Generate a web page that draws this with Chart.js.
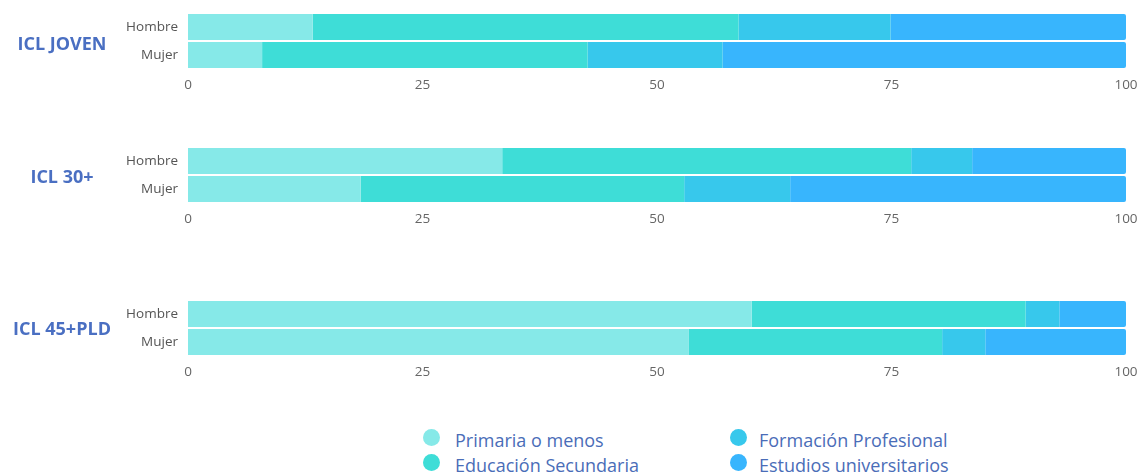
<!DOCTYPE html>
<html>
<head>
<meta charset="utf-8">
<script src="https://cdn.jsdelivr.net/npm/chart.js@4"></script>
<style>
  html, body { margin: 0; padding: 0; background: #fff; }
  body { width: 1141px; height: 475px; position: relative; overflow: hidden; font-family: "Open Sans", sans-serif; }
  .wrap { position: absolute; left: 0; width: 1141px; height: 100px; }
  .grp { position: absolute; left: 0; width: 124px; text-align: center; font-weight: bold; font-size: 18px; color: #4a6fc2; line-height: 22px; }
  .leg { position: absolute; font-size: 18px; color: #4a6db8; line-height: 22px; white-space: nowrap; }
  .dot { position: absolute; width: 17px; height: 17px; border-radius: 50%; }
</style>
</head>
<body>
<div class="wrap" style="top:0px"><canvas id="c0" width="1141" height="100"></canvas></div>
<div class="wrap" style="top:134px"><canvas id="c1" width="1141" height="100"></canvas></div>
<div class="wrap" style="top:287px"><canvas id="c2" width="1141" height="100"></canvas></div>
<div id="groups"></div>
<div id="legend"></div>
<script>
const categories = ['Hombre', 'Mujer'];
const groups = ['ICL JOVEN', 'ICL 30+', 'ICL 45+PLD'];
const seriesNames = ['Primaria o menos', 'Educación Secundaria', 'Formación Profesional', 'Estudios universitarios'];
const xTicks = [0, 25, 50, 75, 100];
// values per group: [Hombre, Mujer]
const primaria    = [[13.3, 7.9], [33.5, 18.4], [60.1, 53.4]];
const secundaria  = [[45.4, 34.7], [43.6, 34.5], [29.2, 27.0]];
const formacion   = [[16.2, 14.4], [6.5, 11.3], [3.6, 4.6]];
const estudios    = [[25.1, 43.0], [16.4, 35.8], [7.1, 15.0]];

const colors = ['#86e9e8', '#3eddd7', '#37c8ec', '#38b5fd'];
const seriesData = [primaria, secundaria, formacion, estudios];

groups.forEach((g, gi) => {
  new Chart(document.getElementById('c' + gi), {
    type: 'bar',
    data: {
      labels: categories,
      datasets: seriesNames.map((name, si) => ({
        label: name,
        data: seriesData[si][gi],
        backgroundColor: colors[si],
        borderWidth: 0,
        borderRadius: si === 3 ? {topRight: 2, bottomRight: 2, topLeft: 0, bottomLeft: 0} : 0,
        borderSkipped: false,
        barPercentage: 0.93,
        categoryPercentage: 1
      }))
    },
    options: {
      indexAxis: 'y',
      responsive: false,
      animation: false,
      layout: { padding: { top: 13, right: 15, left: 0, bottom: 0 } },
      plugins: { legend: { display: false }, tooltip: { enabled: false } },
      scales: {
        x: {
          stacked: true, min: 0, max: 100,
          afterBuildTicks: s => { s.ticks = xTicks.map(v => ({ value: v })); },
          grid: { display: false, drawTicks: false },
          border: { display: false },
          ticks: { padding: 8, color: '#666', font: { family: 'Open Sans', size: 13.5 } },
          afterFit: s => { s.height = 31; s.paddingLeft = 0; s.paddingRight = 0; }
        },
        y: {
          stacked: true,
          grid: { display: false, drawTicks: false },
          border: { display: false },
          ticks: { padding: 10, color: '#555', font: { family: 'Open Sans', size: 13.5 } },
          afterFit: s => { s.width = 188; s.paddingTop = 0; s.paddingBottom = 0; }
        }
      }
    }
  });
});

const grpTops = [32, 165, 317];
const gEl = document.getElementById('groups');
groups.forEach((g, i) => {
  const d = document.createElement('div');
  d.className = 'grp';
  d.style.top = grpTops[i] + 'px';
  d.textContent = g;
  gEl.appendChild(d);
});

const legPos = [[431, 437, 441], [431, 462, 466], [738, 437, 441], [738, 462, 466]];
const lEl = document.getElementById('legend');
seriesNames.forEach((n, i) => {
  const [cx, cy, ty] = legPos[i];
  const dot = document.createElement('div');
  dot.className = 'dot';
  dot.style.left = (cx - 8.5) + 'px';
  dot.style.top = (cy - 8.5) + 'px';
  dot.style.background = colors[i];
  lEl.appendChild(dot);
  const t = document.createElement('div');
  t.className = 'leg';
  t.style.left = (cx + (i < 2 ? 24 : 21)) + 'px';
  t.style.top = (ty - 12) + 'px';
  t.textContent = n;
  lEl.appendChild(t);
});
</script>
</body>
</html>
